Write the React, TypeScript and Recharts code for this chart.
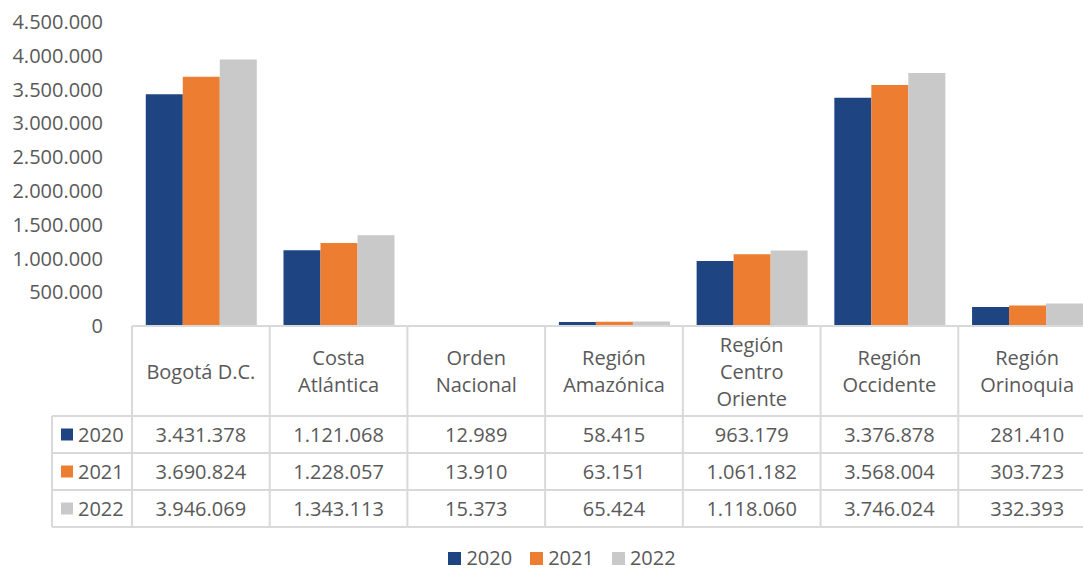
import { Bar, BarChart, Legend, XAxis, YAxis } from "recharts"

const categories = [
    "Bogotá D.C.",
    "Costa Atlántica",
    "Orden Nacional",
    "Región Amazónica",
    "Región Centro Oriente",
    "Región Occidente",
    "Región Orinoquia",
]
const series = ["2020", "2021", "2022"]
const values2020 = [3431378, 1121068, 12989, 58415, 963179, 3376878, 281410]
const values2021 = [3690824, 1228057, 13910, 63151, 1061182, 3568004, 303723]
const values2022 = [3946069, 1343113, 15373, 65424, 1118060, 3746024, 332393]
const yTicks = [0, 500000, 1000000, 1500000, 2000000, 2500000, 3000000, 3500000, 4000000, 4500000]

const colors = ["#1F4482", "#ED7D31", "#C9C9C9"]
const seriesValues = [values2020, values2021, values2022]

const data = categories.map((name, i) => ({
    name,
    y2020: values2020[i],
    y2021: values2021[i],
    y2022: values2022[i],
}))

// layout
const W = 1100
const H = 570
const TOP = 22
const AXIS_Y = 326
const LEFT = 132
const RIGHT_MARGIN = 4
const LEGEND_H = 36
const BAND = (W - LEFT - RIGHT_MARGIN) / categories.length
const TABLE_LEFT = 52
const HEADER_BOTTOM = 416
const ROW_H = 37
const GRID = "#D9D9D9"
const TEXT = "#595959"
const FONT = "'Open Sans', sans-serif"
const FS = 20

const fmt = (v: number) => String(v).replace(/\B(?=(\d{3})+(?!\d))/g, ".")

function wrap(label: string, max = 11) {
    const words = label.split(" ")
    const lines: string[] = []
    let cur = ""
    for (const w of words) {
        if (!cur) cur = w
        else if ((cur + " " + w).length <= max) cur += " " + w
        else {
            lines.push(cur)
            cur = w
        }
    }
    if (cur) lines.push(cur)
    return lines
}

function TableTick(props: any) {
    const { x, index, payload } = props
    const left = x - BAND / 2
    const right = x + BAND / 2
    const lines = wrap(String(payload.value))
    const headerMid = (AXIS_Y + HEADER_BOTTOM) / 2
    const tableBottom = HEADER_BOTTOM + ROW_H * series.length
    const lastCol = index === categories.length - 1
    return (
        <g fontFamily={FONT} fontSize={FS} fill={TEXT}>
            <line x1={left} y1={AXIS_Y} x2={right} y2={AXIS_Y} stroke={GRID} strokeWidth={2} />
            <line x1={left} y1={AXIS_Y} x2={left} y2={tableBottom} stroke={GRID} strokeWidth={2} />
            {lastCol && <line x1={right} y1={AXIS_Y} x2={right} y2={tableBottom} stroke={GRID} strokeWidth={2} />}
            {index === 0 && (
                <line x1={TABLE_LEFT} y1={HEADER_BOTTOM} x2={TABLE_LEFT} y2={tableBottom} stroke={GRID} strokeWidth={2} />
            )}
            {series.map((_, r) => (
                <line
                    key={"h" + r}
                    x1={index === 0 ? TABLE_LEFT : left}
                    y1={HEADER_BOTTOM + ROW_H * (r + 1)}
                    x2={right}
                    y2={HEADER_BOTTOM + ROW_H * (r + 1)}
                    stroke={GRID}
                    strokeWidth={2}
                />
            ))}
            <line x1={index === 0 ? TABLE_LEFT : left} y1={HEADER_BOTTOM} x2={right} y2={HEADER_BOTTOM} stroke={GRID} strokeWidth={2} />
            {lines.map((ln, k) => (
                <text
                    key={"l" + k}
                    x={x}
                    y={headerMid + (k - (lines.length - 1) / 2) * 27}
                    textAnchor="middle"
                    dominantBaseline="central"
                >
                    {ln}
                </text>
            ))}
            {seriesValues.map((vals, r) => (
                <text
                    key={"v" + r}
                    x={x}
                    y={HEADER_BOTTOM + ROW_H * r + ROW_H / 2}
                    textAnchor="middle"
                    dominantBaseline="central"
                >
                    {fmt(vals[index])}
                </text>
            ))}
            {index === 0 &&
                series.map((s, r) => {
                    const cy = HEADER_BOTTOM + ROW_H * r + ROW_H / 2
                    return (
                        <g key={"s" + r}>
                            <rect x={61} y={cy - 6} width={12} height={12} fill={colors[r]} />
                            <text x={78} y={cy} dominantBaseline="central">
                                {s}
                            </text>
                        </g>
                    )
                })}
        </g>
    )
}

function LegendContent() {
    return (
        <div
            style={{
                height: LEGEND_H,
                boxSizing: "border-box",
                paddingTop: 12,
                paddingLeft: 28,
                display: "flex",
                justifyContent: "center",
                alignItems: "center",
                fontFamily: FONT,
                fontSize: FS,
                lineHeight: "24px",
                color: TEXT,
            }}
        >
            {series.map((s, i) => (
                <span key={s} style={{ display: "flex", alignItems: "center", marginRight: i < series.length - 1 ? 18 : 0 }}>
                    <span style={{ width: 13, height: 13, background: colors[i], marginRight: 5, display: "inline-block" }} />
                    {s}
                </span>
            ))}
        </div>
    )
}

export default function App() {
    return (
        <div
            style={{
                position: "absolute",
                left: 0,
                top: 0,
                width: 1083,
                height: 570,
                overflow: "hidden",
                background: "#fff",
                fontFamily: FONT,
            }}
        >
            <BarChart
                width={W}
                height={H}
                data={data}
                margin={{ top: TOP, right: RIGHT_MARGIN, left: 0, bottom: 0 }}
                barCategoryGap="10%"
                barGap={0}
            >
                <YAxis
                    width={LEFT}
                    domain={[0, 4500000]}
                    ticks={yTicks}
                    tickFormatter={fmt}
                    axisLine={false}
                    tickLine={false}
                    tickSize={0}
                    tickMargin={29}
                    tick={{ fill: TEXT, fontSize: FS, fontFamily: FONT }}
                    interval={0}
                />
                <XAxis
                    dataKey="name"
                    height={H - AXIS_Y - LEGEND_H}
                    axisLine={false}
                    tickLine={false}
                    interval={0}
                    tick={<TableTick />}
                />
                <Legend verticalAlign="bottom" height={LEGEND_H} content={<LegendContent />} />
                <Bar dataKey="y2020" name="2020" fill={colors[0]} isAnimationActive={false} />
                <Bar dataKey="y2021" name="2021" fill={colors[1]} isAnimationActive={false} />
                <Bar dataKey="y2022" name="2022" fill={colors[2]} isAnimationActive={false} />
            </BarChart>
        </div>
    )
}
